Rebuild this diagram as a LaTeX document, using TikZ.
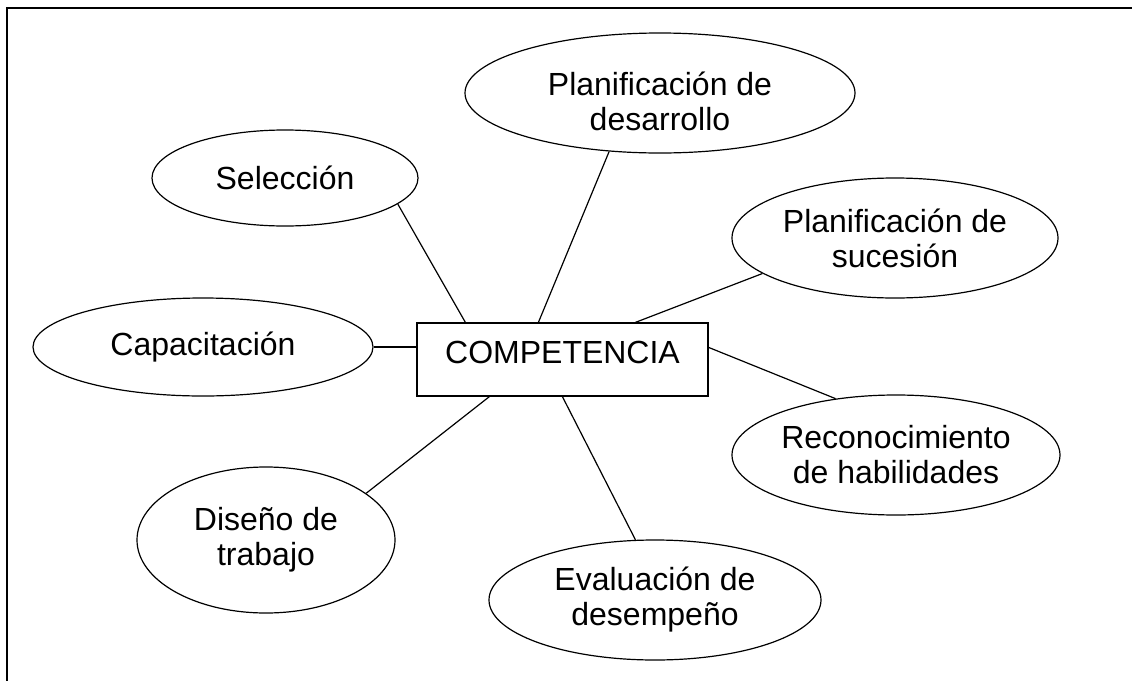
\documentclass[tikz,border=0pt]{standalone}
\usepackage{fontspec}
\setmainfont{Liberation Sans}
\usepackage{tikz}
\usetikzlibrary{shapes.geometric,calc,positioning}
\tikzstyle{tema}  =[ellipse, draw, line width=0.6pt, inner sep=0pt,
                    align=center, font=\fontsize{16}{17.5}\selectfont]
\tikzstyle{caja}  =[rectangle, draw, line width=0.6pt, inner sep=0pt,
                    minimum width=145.5pt, minimum height=36.5pt,
                    text depth=7.5pt, font=\fontsize{16}{17.5}\selectfont]
\tikzstyle{enlace}=[line width=0.6pt]
\tikzstyle{marco} =[line width=1pt]

\begin{document}
\begin{tikzpicture}[x=0.5pt,y=-0.5pt]
    \useasboundingbox (0,0) rectangle (1132,681);
    \draw [marco] (7,681) -- (7,8) -- (1132,8);

    \node (box) [caja] at (562.5,359.5) {COMPETENCIA};

    \node (sel)  [tema, minimum width=133pt, minimum height=48pt] at (285,178) {Selección};
    \node (desa) [tema, minimum width=195pt, minimum height=60pt, text height=37pt, text depth=0pt] at (660,93) {Planificación de\\desarrollo};
    \node (suc)  [tema, minimum width=163pt, minimum height=60pt] at (895,238) {Planificación de\\sucesión};
    \node (cap)  [tema, minimum width=170pt, minimum height=49pt] at (203,347) {Capacitación};
    \node (reco) [tema, minimum width=164pt, minimum height=60pt] at (896,455) {Reconocimiento\\de habilidades};
    \node (dis)  [tema, minimum width=129pt, minimum height=73pt] at (266,540) {Diseño de\\trabajo};
    \node (eva)  [tema, minimum width=166pt, minimum height=60pt] at (655,600) {Evaluación de\\desempeño};

    \draw [enlace] (sel.-13) -- ($(box.north west)+(49,0)$);
    \draw [enlace] (desa.-131) -- ($(box.north west)+(122,0)$);
    \draw [enlace] (suc.-165) -- ($(box.north west)+(219,0)$);
    \draw [enlace] (cap.east) -- (cap.east -| box.west);
    \draw [enlace] ($(box.north east)+(0,25)$) -- (reco.137);
    \draw [enlace] (dis.25) -- ($(box.south west)+(73,0)$);
    \draw [enlace] ($(box.south west)+(146,0)$) -- (eva.108);

\end{tikzpicture}
\end{document}
